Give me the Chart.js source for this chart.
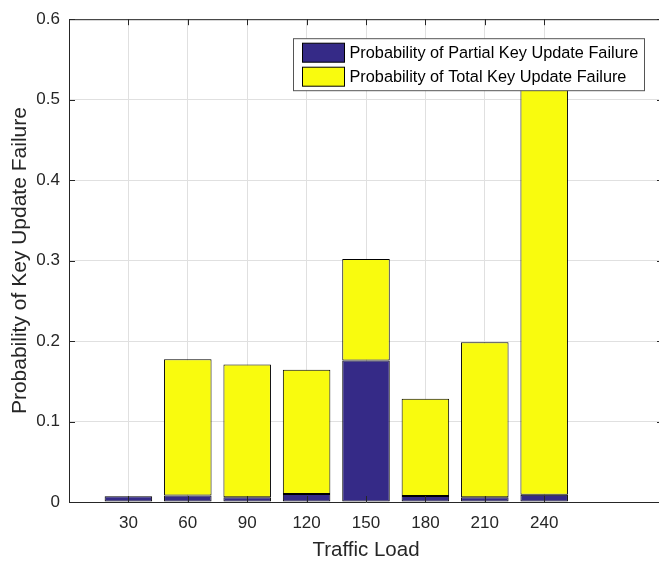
<!DOCTYPE html>
<html>
<head>
<meta charset="utf-8">
<script src="https://cdn.jsdelivr.net/npm/chart.js@4/dist/chart.umd.min.js"></script>
<style>
    html, body { margin: 0; padding: 0; background: #fff; }
    #wrap { width: 659px; height: 563px; overflow: hidden; }
</style>
</head>
<body>
<div id="wrap"><canvas id="chart" width="663" height="563"></canvas></div>
<script>
const loads = [30, 60, 90, 120, 150, 180, 210, 240];
const partialFailure = [0.007, 0.008, 0.006, 0.0098, 0.1757, 0.0074, 0.006, 0.009];
const totalFailure = [0, 0.1695, 0.165, 0.1547, 0.1263, 0.121, 0.1925, 0.536];
const seriesNames = ['Probability of Partial Key Update Failure', 'Probability of Total Key Update Failure'];
const seriesColors = ['#352A87', '#F9FB0E'];

const ink = '#262626';
const font = 'Liberation Sans, Arial, Helvetica, sans-serif';

const toPoints = vals => loads.map((x, i) => ({ x, y: vals[i] }));

// MATLAB style box, inward tick marks and the legend
const matlabAxes = {
    id: 'matlabAxes',
    afterDraw(chart) {
        const { ctx, chartArea: a, scales: { x, y } } = chart;
        const len = 6;
        ctx.save();
        ctx.strokeStyle = ink;
        ctx.lineWidth = 1;
        ctx.beginPath();
        ctx.moveTo(a.left, a.top + 0.5);
        ctx.lineTo(a.right, a.top + 0.5);
        ctx.moveTo(a.right - 0.5, a.top);
        ctx.lineTo(a.right - 0.5, a.bottom);
        x.ticks.forEach(t => {
            const px = Math.round(x.getPixelForValue(t.value)) + 0.5;
            ctx.moveTo(px, a.bottom);
            ctx.lineTo(px, a.bottom - len);
            ctx.moveTo(px, a.top);
            ctx.lineTo(px, a.top + len);
        });
        y.ticks.forEach(t => {
            const py = Math.round(y.getPixelForValue(t.value)) + 0.5;
            ctx.moveTo(a.left, py);
            ctx.lineTo(a.left + len, py);
            ctx.moveTo(a.right, py);
            ctx.lineTo(a.right - len, py);
        });
        ctx.stroke();

        // legend
        const lx = 293.5, ly = a.top + 19.5, lw = 351, lh = 52;
        ctx.fillStyle = '#fff';
        ctx.fillRect(lx, ly, lw, lh);
        ctx.strokeStyle = '#555';
        ctx.strokeRect(lx, ly, lw, lh);
        ctx.font = '16.3px ' + font;
        ctx.textBaseline = 'middle';
        seriesNames.forEach((name, i) => {
            const rowY = ly + 14 + i * 24;
            ctx.fillStyle = seriesColors[i];
            ctx.fillRect(lx + 9, rowY - 9.5, 42, 19);
            ctx.strokeStyle = '#000';
            ctx.strokeRect(lx + 9, rowY - 9.5, 42, 19);
            ctx.fillStyle = '#000';
            ctx.fillText(name, lx + 56, rowY + 1);
        });
        ctx.restore();
    }
};

new Chart(document.getElementById('chart'), {
    type: 'bar',
    data: {
        datasets: [
            {
                label: seriesNames[0],
                data: toPoints(partialFailure),
                backgroundColor: seriesColors[0],
            },
            {
                label: seriesNames[1],
                data: toPoints(totalFailure),
                backgroundColor: seriesColors[1],
            }
        ]
    },
    options: {
        responsive: false,
        animation: false,
        layout: { padding: { top: 13, left: 0, right: 0, bottom: 0 } },
        datasets: {
            bar: {
                borderColor: '#000',
                borderWidth: 1,
                borderSkipped: false,
                categoryPercentage: 1,
                barPercentage: 0.8
            }
        },
        plugins: {
            legend: { display: false },
            tooltip: { enabled: false }
        },
        scales: {
            x: {
                type: 'linear',
                stacked: true,
                min: 0,
                max: 300,
                offset: false,
                afterBuildTicks: axis => { axis.ticks = loads.map(v => ({ value: v })); },
                afterFit: axis => { axis.height = 61; },
                grid: { color: '#e0e0e0', drawTicks: false, offset: false },
                border: { color: ink },
                ticks: { color: ink, font: { family: font, size: 17 }, padding: 11, maxRotation: 0 },
                title: {
                    display: true,
                    text: 'Traffic Load',
                    color: ink,
                    font: { family: font, size: 20.5 },
                    padding: { top: 0, bottom: 0 }
                }
            },
            y: {
                stacked: true,
                min: 0,
                max: 0.6,
                afterFit: axis => { axis.width = 69; },
                grid: { color: '#e0e0e0', drawTicks: false },
                border: { color: ink },
                ticks: { stepSize: 0.1, color: ink, font: { family: font, size: 17 }, padding: 9 },
                title: {
                    display: true,
                    text: 'Probability of Key Update Failure',
                    color: ink,
                    font: { family: font, size: 21 },
                    padding: { top: 8, bottom: 0 }
                }
            }
        }
    },
    plugins: [matlabAxes]
});
</script>
</body>
</html>
